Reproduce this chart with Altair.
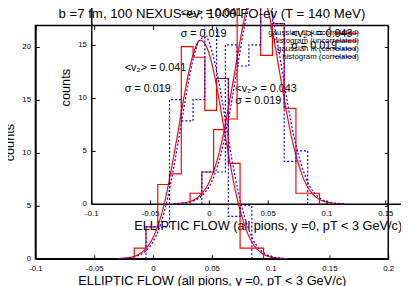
import altair as alt
import pandas as pd

FONT = "Liberation Sans"

title_text = "b =7 fm, 100 NEXUS-ev; 1000 FO-ev (T = 140 MeV)"
x_title = "ELLIPTIC FLOW  (all pions, y =0, pT < 3 GeV/c)"
y_title = "counts"

series_names = ["gaussian fit (uncorrelated)", "histogram (uncorrelated)",
                "gaussian fit (correlated)", "histogram (correlated)"]
series_colors = ["#ff0000", "#ff0000", "#0000ff", "#0000ff"]
series_dashes = [[1, 0], [1, 0], [2, 2], [2, 2]]

x_ticks = [-0.1, -0.05, 0, 0.05, 0.1, 0.15, 0.2]
y_ticks = [0, 5, 10, 15, 20]

# histogram (uncorrelated): bin edges and counts
unc_edges = [-0.016, -0.006, 0.004, 0.014, 0.024, 0.034, 0.044, 0.054, 0.064, 0.074, 0.084, 0.094]
unc_counts = [1, 3, 7, 8, 20, 19, 14, 17, 9, 1, 1]

# histogram (correlated)
cor_edges = [-0.006, 0.004, 0.014, 0.024, 0.034, 0.044, 0.054, 0.064, 0.074, 0.084]
cor_counts = [3, 3, 15, 13, 15, 25, 17, 4, 5]

# gaussian fits
fit_x = [-0.03, -0.025, -0.02, -0.015, -0.01, -0.005, 0.0, 0.005, 0.01, 0.015,
         0.02, 0.025, 0.03, 0.035, 0.04, 0.045, 0.05, 0.055, 0.06, 0.065,
         0.07, 0.075, 0.08, 0.085, 0.09, 0.095, 0.1, 0.105, 0.11, 0.115]
fit_unc = [0.02, 0.05, 0.12, 0.27, 0.56, 1.1, 2.0, 3.4, 5.4, 8.1,
           11.2, 14.4, 17.4, 19.6, 20.6, 20.1, 18.4, 15.7, 12.5, 9.3,
           6.4, 4.2, 2.5, 1.4, 0.74, 0.36, 0.17, 0.07, 0.03, 0.01]
fit_cor = [0.01, 0.04, 0.09, 0.2, 0.43, 0.86, 1.6, 2.8, 4.6, 7.1,
           10.1, 13.4, 16.6, 19.2, 20.7, 20.9, 19.6, 17.2, 14.1, 10.7,
           7.6, 5.1, 3.2, 1.8, 0.98, 0.49, 0.23, 0.1, 0.04, 0.02]

label_text = ["<v\u2082> = 0.041", "\u03c3 = 0.019", "<v\u2082> = 0.043", "\u03c3 = 0.019"]
label_x = [-0.024, -0.024, 0.07, 0.07]
label_y = [18.0, 16.0, 16.0, 14.9]

X_DOMAIN = [-0.1, 0.2]
Y_DOMAIN = [0, 22]
W, H = 360, 238
DX, DY = 57, -56  # displacement of the overlaid copy of the plot

# ---- tables ----
fit_rows = []
for k, (xv, yu, yc) in enumerate(zip(fit_x, fit_unc, fit_cor)):
    fit_rows.append({"x": xv, "y": yu, "series": series_names[0], "i": k})
    fit_rows.append({"x": xv, "y": yc, "series": series_names[2], "i": k})
fit_df = pd.DataFrame(fit_rows)


def step_rows(edges, counts, name):
    rows = [{"x": edges[0], "y": 0, "series": name, "i": 0}]
    for k, c in enumerate(counts):
        rows.append({"x": edges[k], "y": c, "series": name, "i": k + 1})
    rows.append({"x": edges[-1], "y": 0, "series": name, "i": len(counts) + 1})
    return rows


hist_df = pd.DataFrame(step_rows(unc_edges, unc_counts, series_names[1]) +
                       step_rows(cor_edges, cor_counts, series_names[3]))
label_df = pd.DataFrame({"x": label_x, "y": label_y, "t": label_text})

color_scale = alt.Scale(domain=series_names, range=series_colors)
dash_scale = alt.Scale(domain=series_names, range=series_dashes)
legend = alt.Legend(title=None, orient="none", legendX=276, legendY=4,
                    labelAlign="right", labelOffset=0, symbolOffset=28,
                    symbolType="stroke", symbolSize=576, symbolStrokeWidth=1.3,
                    labelFontSize=8, labelFont=FONT, labelColor="black",
                    clipHeight=8, rowPadding=0, padding=0, labelLimit=300)


def lab_axis(orient, values, title, offset, is_x):
    kw = dict(orient=orient, values=values, ticks=False, tickSize=0, domain=True,
              domainColor="black", domainWidth=1.5, grid=False, labelFont=FONT,
              labelFontSize=8, labelColor="black", title=title, titleFont=FONT,
              titleFontWeight="normal", titleColor="black", labelFlush=False,
              labelOverlap=False, offset=offset)
    if is_x:
        kw.update(labelExpr="'' + datum.value", labelPadding=6, titlePadding=2,
                  titleFontSize=13)
    else:
        kw.update(labelPadding=5, titlePadding=5, titleFontSize=13)
    return alt.Axis(**kw)


def tick_axis(orient, values, offset):
    return alt.Axis(orient=orient, values=values, offset=offset, domain=False,
                    labels=False, ticks=True, tickSize=4, tickColor="black",
                    tickWidth=1, grid=False, title=None)


def plot_layers(xs, ys, xax, yax, clip):
    x = alt.X("x:Q", scale=xs, axis=xax)
    y = alt.Y("y:Q", scale=ys, axis=yax)
    col = alt.Color("series:N", scale=color_scale, legend=legend)
    dash = alt.StrokeDash("series:N", scale=dash_scale, legend=legend)
    fits = alt.Chart(fit_df).mark_line(interpolate="monotone", strokeWidth=1.2,
                                       clip=clip).encode(
        x=x, y=y, color=col, strokeDash=dash, order="i:Q")
    hist = alt.Chart(hist_df).mark_line(interpolate="step-after", strokeWidth=1.2,
                                        clip=clip).encode(
        x=x, y=y, color=col, strokeDash=dash, order="i:Q")
    texts = alt.Chart(label_df).mark_text(align="left", baseline="middle", fontSize=11,
                                          font=FONT, color="black").encode(x=x, y=y, text="t:N")
    return alt.layer(fits, hist, texts)


def tick_layer(xs, ys, xax, yax):
    return alt.Chart(fit_df).mark_point(opacity=0).encode(
        x=alt.X("x:Q", scale=xs, axis=xax), y=alt.Y("y:Q", scale=ys, axis=yax))


mx = alt.Scale(domain=X_DOMAIN, nice=False, zero=False)
my = alt.Scale(domain=Y_DOMAIN, nice=False, zero=False)
ix = alt.Scale(domain=X_DOMAIN, nice=False, zero=False, range=[DX, W + DX])
iy = alt.Scale(domain=Y_DOMAIN, nice=False, zero=False, range=[H + DY, DY])

main = alt.layer(
    plot_layers(mx, my, lab_axis("bottom", x_ticks, x_title, 0, True),
                lab_axis("left", y_ticks, y_title, 0, False), True),
    tick_layer(mx, my, tick_axis("bottom", x_ticks, -4), tick_axis("left", y_ticks, -4)),
    tick_layer(mx, my, tick_axis("top", x_ticks, -4), tick_axis("right", y_ticks, -4)),
).resolve_axis(x="independent", y="independent")

inset = alt.layer(
    plot_layers(ix, iy, lab_axis("bottom", x_ticks, x_title, DY, True),
                lab_axis("left", y_ticks, y_title, -DX, False), False),
    tick_layer(ix, iy, tick_axis("bottom", x_ticks, DY - 4), tick_axis("left", y_ticks, -DX - 4)),
).resolve_axis(x="independent", y="independent")

chart = alt.layer(main, inset).resolve_scale(x="independent", y="independent").properties(
    width=W, height=H,
    autosize=alt.AutoSizeParams(type="none"),
    padding={"left": 28, "top": 15, "right": 13, "bottom": 25},
    title=alt.TitleParams(text=title_text, font=FONT, fontSize=13.5, fontWeight="normal",
                          color="black", anchor="middle", frame="group", baseline="bottom",
                          offset=-100),
).configure_view(stroke="black", strokeWidth=1.5)

chart.save("out.html", embed_options={"renderer": "svg", "actions": False})
